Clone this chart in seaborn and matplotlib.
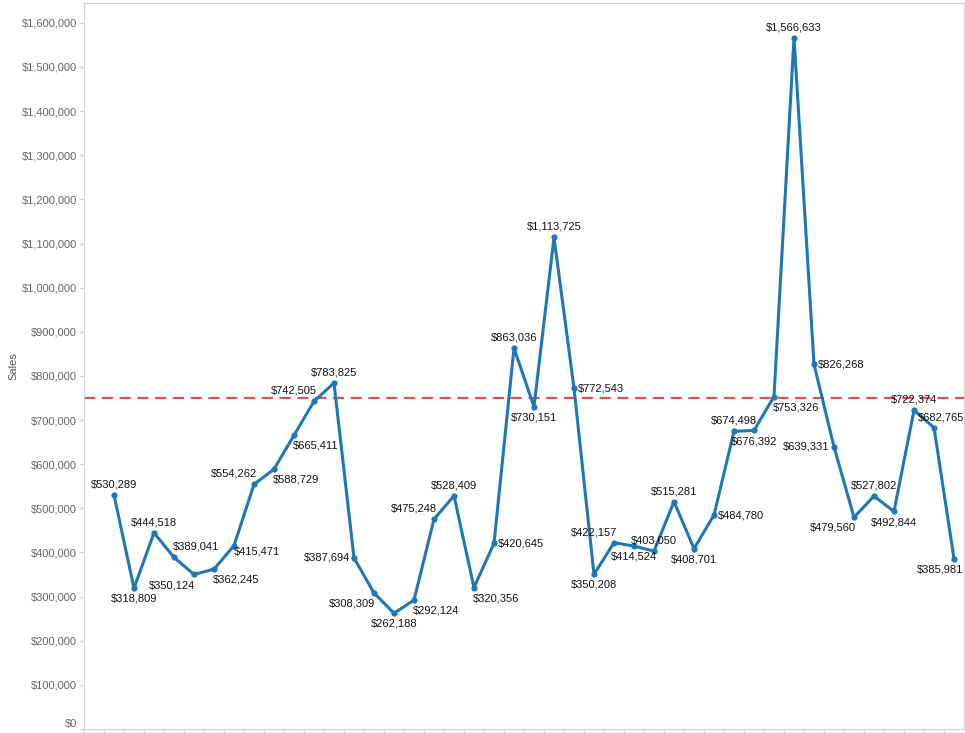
import numpy as np
import pandas as pd
import matplotlib
matplotlib.use("Agg")
import matplotlib.pyplot as plt
import seaborn as sns
from matplotlib.ticker import FuncFormatter

# Sales values, one per period
sales = [530289, 318809, 444518, 389041, 350124, 362245, 415471, 554262,
         588729, 665411, 742505, 783825, 387694, 308309, 262188, 292124,
         475248, 528409, 320356, 420645, 863036, 730151, 1113725, 772543,
         350208, 422157, 414524, 403050, 515281, 408701, 484780, 674498,
         676392, 753326, 1566633, 826268, 639331, 479560, 527802, 492844,
         722374, 682765, 385981]
period = list(range(len(sales)))
reference_value = 750000
y_ticks = list(range(0, 1600001, 100000))

# where each mark label sits relative to its point
label_pos = ['a', 'b', 'a', 'ar', 'bl', 'br', 'rb', 'al', 'br', 'br', 'al', 'a',
             'l', 'bl', 'b', 'br', 'al', 'a', 'br', 'r', 'a', 'b', 'a', 'r',
             'b', 'al', 'b', 'a', 'a', 'b', 'r', 'a', 'b', 'br', 'a', 'r',
             'l', 'bl', 'a', 'b', 'a', 'ac', 'bc']
offsets = {
    'a': (0, 4, 'center', 'bottom'),
    'b': (0, -4, 'center', 'top'),
    'al': (2, 4, 'right', 'bottom'),
    'ar': (-1, 4, 'left', 'bottom'),
    'bl': (1, -4, 'right', 'top'),
    'br': (-1, -4, 'left', 'top'),
    'rb': (0, -0.5, 'left', 'top'),
    'l': (-3, 0, 'right', 'center'),
    'r': (3, 0, 'left', 'center'),
    'ac': (5, 4, 'center', 'bottom'),
    'bc': (6.5, -4, 'right', 'top'),
}

df = pd.DataFrame({'Period': period, 'Sales': sales})

sns.set_style('white')
plt.rcParams['font.family'] = ['Liberation Sans', 'DejaVu Sans']

fig = plt.figure(figsize=(9.65, 7.33), dpi=100)
ax = fig.add_axes([84 / 965, 4 / 733, 880 / 965, 726 / 733])

blue = '#1f77b4'
sns.lineplot(data=df, x='Period', y='Sales', ax=ax, color=blue, linewidth=2.2,
             marker='o', markersize=4.5, markeredgewidth=0, zorder=3)
ax.axhline(reference_value, color='#d9534f', linewidth=1.6, dashes=(5, 3), zorder=2)

for x, y, p in zip(period, sales, label_pos):
    dx, dy, ha, va = offsets[p]
    ax.annotate('${:,}'.format(y), (x, y), xytext=(dx, dy), textcoords='offset points',
                ha=ha, va=va, fontsize=8, color='#111111', zorder=4)

ax.set_xlim(-1.5, len(sales) - 0.5)
ax.set_ylim(0, 1645000)
ax.set_yticks(y_ticks)
ax.yaxis.set_major_formatter(FuncFormatter(lambda v, _: '${:,.0f}'.format(v)))
ax.set_xticks(np.arange(-1.5, len(sales) - 1, 1.0))
ax.set_xticklabels([])
ax.tick_params(axis='y', length=3, width=0.8, color='#cccccc', labelsize=8,
               labelcolor='#666666', pad=2, left=True)
ax.tick_params(axis='x', length=4, width=0.8, color='#cccccc', bottom=True)
ax.yaxis.get_majorticklabels()[0].set_va('bottom')

ax.set_xlabel('')
ax.set_ylabel('Sales', fontsize=8, color='#555555')
ax.yaxis.set_label_coords(-66 / 880, 0.5)

for s in ax.spines.values():
    s.set_color('#d4d4d4')
    s.set_linewidth(0.8)

fig.savefig('out.png', dpi=100)
